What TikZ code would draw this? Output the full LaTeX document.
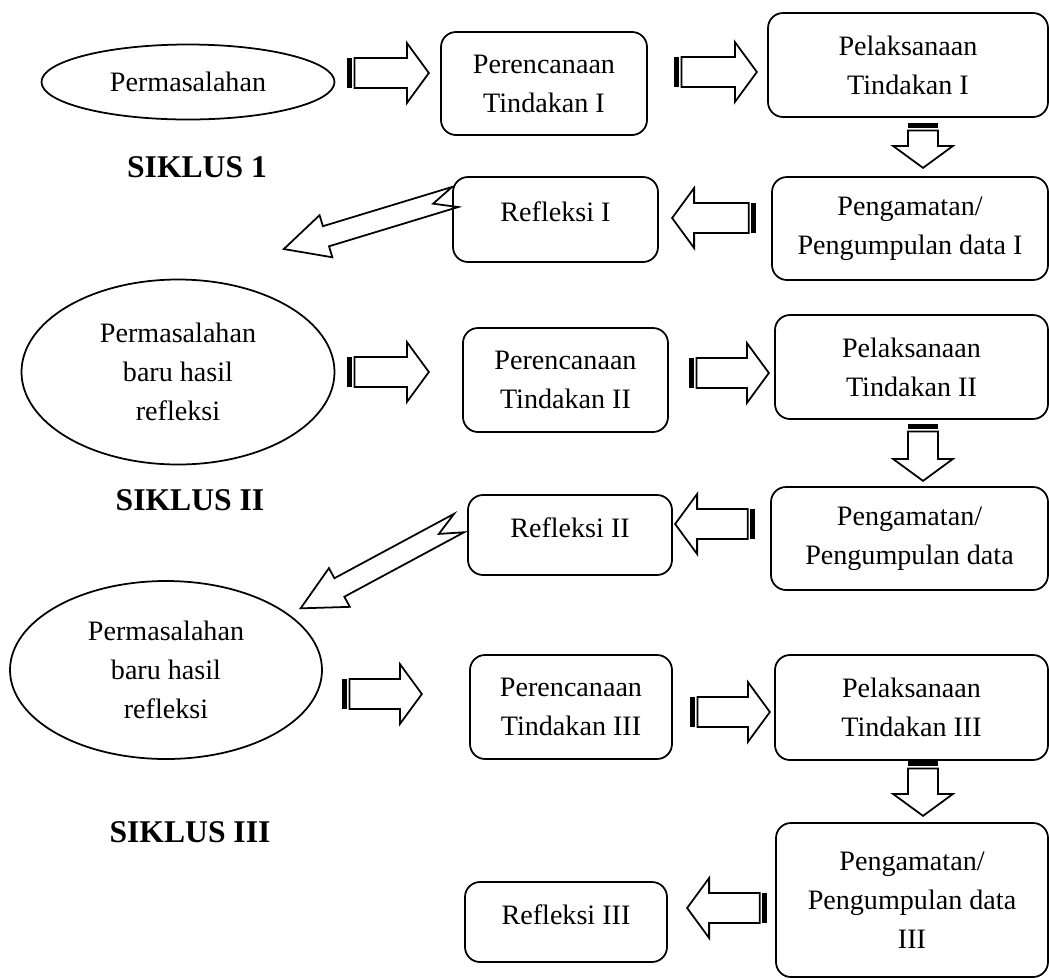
\documentclass[tikz,border=0pt]{standalone}
\usepackage{fontspec}
\setmainfont{Liberation Serif}
\usetikzlibrary{shapes.geometric,positioning,calc}

\begin{document}
\begin{tikzpicture}[
    line width=1pt,
    every node/.style={font=\fontsize{16}{22.2}\selectfont},
    box/.style={rectangle, draw, rounded corners=0.3cm, align=center, inner sep=2pt},
    refl/.style={box, text depth=0.3cm},
    oval/.style={ellipse, draw, align=center, inner sep=0pt},
    siklus/.style={font=\bfseries\fontsize{18}{22}\selectfont},
    pics/stripe arrow/.style={code={
        \fill (0,-0.3) rectangle (0.1,0.3);
        \draw (0.15,0.3) -- ({#1-0.44},0.3) -- ({#1-0.44},0.6) -- (#1,0)
              -- ({#1-0.44},-0.6) -- ({#1-0.44},-0.3) -- (0.15,-0.3) -- cycle;
    }},
    pics/notch arrow/.style={code={
        \draw (0,0.21) -- ({#1-0.88},0.21) -- ({#1-0.88},0.44) -- (#1,0)
              -- ({#1-0.88},-0.44) -- ({#1-0.88},-0.21) -- (0,-0.21) -- (0.46,0) -- cycle;
    }}
]
\useasboundingbox (0,0) rectangle (20.98,-19.56);

% Siklus 1
\node[oval, minimum width=5.86cm, minimum height=1.50cm] (el1) at (3.76,-1.64) {Permasalahan};
\node[siklus] (sk1) at (3.94,-3.34) {SIKLUS 1};
\node[box, minimum width=4.12cm, minimum height=2.06cm] (pr1) at (10.88,-1.67) {Perencanaan\\Tindakan I};
\node[box, minimum width=5.6cm, minimum height=2.08cm] (pl1) at (18.16,-1.30) {Pelaksanaan\\Tindakan I};
\node[box, minimum width=5.52cm, minimum height=2.06cm] (pg1) at (18.20,-4.57) {Pengamatan/\\Pengumpulan data I};
\node[refl, minimum width=4.10cm, minimum height=1.70cm] (rf1) at (11.11,-4.39) {Refleksi I};

\pic at ($(el1.east)+(0.23,0.18)$) {stripe arrow=1.64};
\pic at ($(pr1.east)+(0.52,0.23)$) {stripe arrow=1.66};
\pic[rotate=-90] at ($(pl1.south)+(0.30,-0.10)$) {stripe arrow=0.90};
\pic[rotate=180] at ($(pg1.west)+(-0.30,0.21)$) {stripe arrow=1.68};
\pic[rotate=196.9] at ($(rf1.west)+(0.06,0.45)$) {notch arrow=3.58};

% Siklus 2
\node[oval, minimum width=6.26cm, minimum height=3.70cm] (el2) at (3.56,-7.44) {Permasalahan\\baru hasil\\refleksi};
\node[siklus] (sk2) at (3.80,-10.00) {SIKLUS II};
\node[box, minimum width=4.10cm, minimum height=2.08cm] (pr2) at (11.31,-7.60) {Perencanaan\\Tindakan II};
\node[box, minimum width=5.46cm, minimum height=2.08cm] (pl2) at (18.23,-7.34) {Pelaksanaan\\Tindakan II};
\node[box, minimum width=5.54cm, minimum height=2.06cm] (pg2) at (18.19,-10.77) {Pengamatan/\\Pengumpulan data};
\node[refl, minimum width=4.08cm, minimum height=1.60cm] (rf2) at (11.40,-10.70) {Refleksi II};

\pic at ($(el2.east)+(0.23,0)$) {stripe arrow=1.64};
\pic at ($(pr2.east)+(0.40,0.14)$) {stripe arrow=1.60};
\pic[rotate=-90] at ($(pl2.south)+(0.23,-0.08)$) {stripe arrow=1.14};
\pic[rotate=180] at ($(pg2.west)+(-0.30,0.29)$) {stripe arrow=1.60};
\pic[rotate=208.3] at ($(rf2.west)+(-0.16,0.24)$) {notch arrow=3.60};

% Siklus 3
\node[oval, minimum width=6.24cm, minimum height=3.56cm] (el3) at (3.32,-13.40) {Permasalahan\\baru hasil\\refleksi};
\node[siklus] (sk3) at (3.80,-16.64) {SIKLUS III};
\node[box, minimum width=4.04cm, minimum height=2.08cm] (pr3) at (11.42,-14.14) {Perencanaan\\Tindakan III};
\node[box, minimum width=5.46cm, minimum height=2.10cm] (pl3) at (18.23,-14.15) {Pelaksanaan\\Tindakan III};
\node[box, minimum width=5.44cm, minimum height=3.08cm] (pg3) at (18.24,-18.00) {Pengamatan/\\Pengumpulan data\\III};
\node[refl, minimum width=4.04cm, minimum height=1.60cm] (rf3) at (11.32,-18.44) {Refleksi III};

\pic at ($(el3.east)+(0.38,-0.48)$) {stripe arrow=1.60};
\pic at ($(pr3.east)+(0.34,-0.10)$) {stripe arrow=1.60};
\pic[rotate=-90] at ($(pl3.south)+(0.23,0)$) {stripe arrow=1.10};
\pic[rotate=180] at ($(pg3.west)+(-0.16,-0.16)$) {stripe arrow=1.60};

\end{tikzpicture}
\end{document}
